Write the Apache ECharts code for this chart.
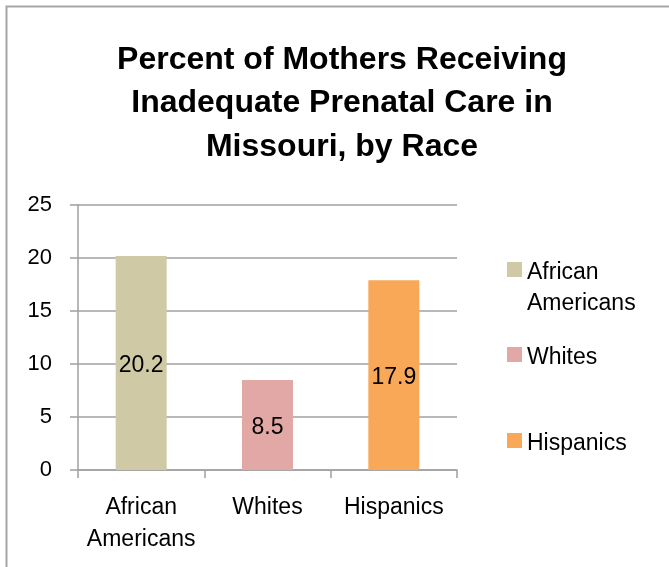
<!DOCTYPE html>
<html>
<head>
<meta charset="utf-8">
<script src="https://cdn.jsdelivr.net/npm/echarts@6/dist/echarts.min.js"></script>
<style>
html,body{margin:0;padding:0;background:#fff;}
#c{width:669px;height:567px;}
</style>
</head>
<body>
<div id="c"></div>
<script>
var titleText = 'Percent of Mothers Receiving\nInadequate Prenatal Care in\nMissouri, by Race';
var categories = ['African Americans', 'Whites', 'Hispanics'];
var categoryLabels = ['African\nAmericans', 'Whites', 'Hispanics'];
var values = [20.2, 8.5, 17.9];
var colors = ['#CFC9A6', '#E2A8A6', '#F8A856'];
var yTicks = [0, 5, 10, 15, 20, 25];

var FONT = 'Liberation Sans, Arial, sans-serif';
var chart = echarts.init(document.getElementById('c'));

var series = categories.map(function (name, i) {
  return {
    name: name,
    type: 'bar',
    barWidth: 51,
    barGap: '-100%',
    itemStyle: { color: colors[i] },
    label: {
      show: true,
      position: 'inside',
      offset: [0, 3],
      color: '#000',
      fontFamily: FONT,
      fontSize: 23
    },
    data: values.map(function (v, j) { return j === i ? v : '-'; })
  };
});

// square icon placed at the top of a taller (invisible) icon box
var iconTall = 'path://M0,0h15v15h-15z M0,52h0.001';
var iconShort = 'path://M0,0h15v15h-15z M0,21h0.001';
var legendTops = [257, 342, 428];
var legends = categories.map(function (name, i) {
  var isMulti = i === 0;
  return {
    data: [name],
    left: 507,
    top: legendTops[i],
    icon: isMulti ? iconTall : iconShort,
    itemWidth: 15,
    itemHeight: isMulti ? 52 : 21,
    itemGap: 0,
    padding: 0,
    selectedMode: false,
    formatter: function (n) { return n === 'African Americans' ? 'African\nAmericans' : n; },
    textStyle: {
      color: '#000',
      fontFamily: FONT,
      fontSize: 23,
      lineHeight: 31
    }
  };
});

chart.setOption({
  animation: false,
  backgroundColor: '#fff',
  title: {
    text: titleText,
    left: 342,
    top: 38,
    padding: 0,
    textAlign: 'center',
    textStyle: {
      color: '#000',
      fontFamily: FONT,
      fontWeight: 'bold',
      fontSize: 32,
      lineHeight: 43.5
    }
  },
  graphic: [{
    type: 'rect',
    shape: { x: 6.5, y: 6.5, width: 800, height: 800 },
    style: { fill: 'none', stroke: '#A6A6A6', lineWidth: 2 },
    silent: true
  }],
  legend: legends,
  grid: { left: 78, right: 212, top: 205, bottom: 97 },
  xAxis: {
    type: 'category',
    data: categories,
    axisLine: { lineStyle: { color: '#A0A0A0', width: 1.5 } },
    axisTick: { show: true, length: 8, lineStyle: { color: '#A0A0A0', width: 1.5 } },
    axisLabel: {
      interval: 0,
      color: '#000',
      fontFamily: FONT,
      fontSize: 23,
      lineHeight: 32,
      margin: 22,
      formatter: function (v, idx) { return categoryLabels[idx]; }
    }
  },
  yAxis: {
    type: 'value',
    min: yTicks[0],
    max: yTicks[yTicks.length - 1],
    interval: yTicks[1] - yTicks[0],
    axisLine: { show: true, lineStyle: { color: '#A0A0A0', width: 1.5 } },
    axisTick: { show: true, length: 8, lineStyle: { color: '#A0A0A0', width: 1.5 } },
    splitLine: { lineStyle: { color: '#A0A0A0', width: 1.5 } },
    axisLabel: {
      color: '#000',
      fontFamily: FONT,
      fontSize: 22,
      margin: 26
    }
  },
  series: series
});
</script>
</body>
</html>
